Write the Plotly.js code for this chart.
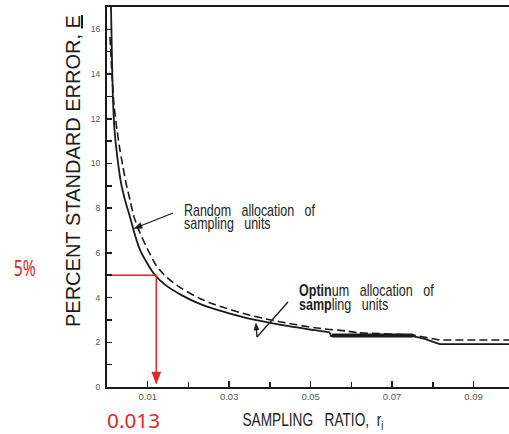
<!DOCTYPE html>
<html>
<head>
<meta charset="utf-8">
<script src="https://cdn.plot.ly/plotly-3.0.1.min.js"></script>
<style>html,body{margin:0;padding:0;background:#fff;}#chart{width:509px;height:434px;}</style>
</head>
<body>
<div id="chart"></div>
<script>
// ---- data ----
// optimum allocation (solid line): curved part and stepped tail
const ratioOptimumCurve = [0.00098, 0.00123, 0.00147, 0.00184, 0.00233, 0.00344, 0.00442, 0.00564, 0.00687, 0.0081, 0.00982, 0.01178, 0.01423, 0.0184, 0.0228, 0.0265, 0.0346, 0.0427, 0.0510, 0.0547];
const errorOptimumCurve = [17.0, 14.63, 12.84, 11.51, 10.6, 9.13, 8.37, 7.61, 6.80, 6.13, 5.55, 5.01, 4.58, 4.10, 3.72, 3.48, 3.07, 2.78, 2.54, 2.44];
const ratioOptimumTail = [0.0547, 0.0550, 0.0751, 0.0780, 0.0817, 0.0987];
const errorOptimumTail = [2.44, 2.28, 2.28, 2.15, 1.92, 1.92];

// random allocation (dashed line)
const ratioRandomCurve = [0.00074, 0.00123, 0.00172, 0.00245, 0.00319, 0.00393, 0.00466, 0.00564, 0.00663, 0.0081, 0.01006, 0.01202, 0.01399, 0.0162, 0.0184, 0.0228, 0.0263, 0.0346, 0.0427, 0.0510, 0.0589, 0.0621];
const errorRandomCurve = [15.66, 13.96, 12.62, 11.5, 10.6, 9.84, 9.13, 8.37, 7.61, 6.89, 6.13, 5.46, 5.03, 4.68, 4.40, 3.96, 3.70, 3.23, 2.91, 2.65, 2.50, 2.42];
const ratioRandomTail = [0.0621, 0.0751, 0.0817, 0.0987];
const errorRandomTail = [2.42, 2.33, 2.10, 2.10];

// thick overlapping stretch where both lines coincide
const ratioOverlap = [0.0552, 0.0751];
const errorOverlap = [2.30, 2.30];

const targetError = 5;
const targetRatio = 0.0121;
const targetRatioLabel = '0.013';
const targetErrorLabel = '5%';

const xTickVals = [0.01, 0.03, 0.05, 0.07, 0.09];
const xTickText = ['0.01', '0.03', '0.05', '0.07', '0.09'];
const xMinorVals = [0.02, 0.04, 0.06, 0.08];
const yTickVals = [0, 2, 4, 6, 8, 10, 12, 14, 16];
const yTickText = ['0', '2', '4', '6', '8', '10', '12', '14', '16'];

// ---- layout helpers (pixel -> paper) ----
const W = 509, H = 434;
const L = 107, R = 509, T = 7, B = 387;
const X_MAX = 0.0987, Y_MAX = 17;
const px = x => (x - L) / (R - L);
const py = y => (B - y) / (B - T);
const arial = "'Liberation Sans', Arial, Helvetica, sans-serif";
const noto = "'Noto Sans', 'Open Sans', sans-serif";
const red = '#d8282b';
const ink = '#1a1a1a';
const sp = '\u00a0';
const sp3 = sp + sp + sp;

function arrowHead(tip, tail, len, hw) {
  const dx = tip[0] - tail[0], dy = tip[1] - tail[1];
  const d = Math.hypot(dx, dy), ux = dx / d, uy = dy / d;
  const bx = tip[0] - ux * len, by = tip[1] - uy * len;
  const p1 = [bx - uy * hw, by + ux * hw], p2 = [bx + uy * hw, by - ux * hw];
  const f = p => px(p[0]) + ',' + py(p[1]);
  return 'M' + f(tip) + ' L' + f(p1) + ' L' + f(p2) + ' Z';
}
function seg(a, b, color, width) {
  return {type: 'line', xref: 'paper', yref: 'paper', x0: px(a[0]), y0: py(a[1]), x1: px(b[0]), y1: py(b[1]), line: {color: color, width: width}};
}
function head(tip, tail, len, hw, color) {
  return {type: 'path', xref: 'paper', yref: 'paper', path: arrowHead(tip, tail, len, hw), fillcolor: color, line: {color: color, width: 0.5}};
}

const targetPx = L + targetRatio / X_MAX * (R - L);

const traces = [
  {x: ratioRandomCurve, y: errorRandomCurve, mode: 'lines', line: {color: ink, width: 1.6, dash: '8px,4px', shape: 'spline', smoothing: 0.7}, hoverinfo: 'skip'},
  {x: ratioRandomTail, y: errorRandomTail, mode: 'lines', line: {color: ink, width: 1.6, dash: '8px,4px'}, hoverinfo: 'skip'},
  {x: ratioOptimumCurve, y: errorOptimumCurve, mode: 'lines', line: {color: ink, width: 1.8, shape: 'spline', smoothing: 0.7}, hoverinfo: 'skip'},
  {x: ratioOptimumTail, y: errorOptimumTail, mode: 'lines', line: {color: ink, width: 1.8}, hoverinfo: 'skip'},
  {x: ratioOverlap, y: errorOverlap, mode: 'lines', line: {color: ink, width: 4}, hoverinfo: 'skip'},
  {x: [0, targetRatio, targetRatio], y: [targetError, targetError, 0.6], mode: 'lines', line: {color: red, width: 1.5}, hoverinfo: 'skip'}
];

const annFont = {family: arial, size: 16, color: '#222'};
const annotations = [
  {xref: 'paper', yref: 'paper', x: px(73), y: py(171), text: 'PERCENT' + sp + 'STANDARD' + sp + 'ERROR,' + sp + '<u>E</u>', textangle: -90, showarrow: false, font: {family: arial, size: 20, color: ink}, xanchor: 'center', yanchor: 'middle'},
  {xref: 'paper', yref: 'paper', x: px(312.5), y: py(421), height: 22, text: 'SAMPLING' + sp3 + 'RATIO,' + sp + sp + 'r<sub>i</sub>', showarrow: false, font: {family: arial, size: 19, color: '#222'}, xanchor: 'center', yanchor: 'middle', _w: 141},
  {xref: 'paper', yref: 'paper', x: px(24), y: py(268), text: targetErrorLabel, showarrow: false, font: {family: noto, size: 21, color: red}, xanchor: 'center', yanchor: 'middle', _w: 22},
  {xref: 'paper', yref: 'paper', x: px(133.5), y: py(420), height: 22, text: targetRatioLabel, showarrow: false, font: {family: noto, size: 20, color: red}, xanchor: 'center', yanchor: 'middle', _w: 53},
  {xref: 'paper', yref: 'paper', x: px(183), y: py(201), borderpad: 0, text: 'Random' + sp3 + 'allocation' + sp3 + 'of<br>sampling' + sp3 + 'units', align: 'left', showarrow: false, font: annFont, xanchor: 'left', yanchor: 'top', _s: 0.78, _dy: 0.8},
  {xref: 'paper', yref: 'paper', x: px(298), y: py(281), borderpad: 0, text: '<b>Optin</b>um' + sp3 + 'allocation' + sp3 + 'of<br><b>samp</b>ling' + sp3 + 'units', align: 'left', showarrow: false, font: annFont, xanchor: 'left', yanchor: 'top', _s: 0.785, _dy: 0.88}
];
const fit = annotations.map(a => ({w: a._w, s: a._s, dy: a._dy, anchor: a.xanchor}));
annotations.forEach(a => { delete a._w; delete a._s; delete a._dy; });

const shapes = [
  seg([173, 213], [139, 226.5], ink, 1.3),
  head([134, 228.5], [173, 213], 8, 3, ink),
  seg([288, 302], [257, 337], ink, 1.3),
  seg([257, 337], [256.3, 329], ink, 1.3),
  head([256, 323], [257, 337], 7, 2.6, ink),
  head([targetPx, 384], [targetPx, 370], 12, 4.5, red)
];

const layout = {
  width: W, height: H,
  margin: {l: L, r: W - R, t: T, b: H - B, pad: 0},
  paper_bgcolor: '#fff', plot_bgcolor: '#fff',
  showlegend: false,
  xaxis: {
    range: [0, X_MAX], showgrid: false, zeroline: false,
    showline: true, linecolor: ink, linewidth: 2, mirror: true,
    tickvals: xTickVals, ticktext: xTickText,
    ticks: 'inside', ticklen: 6, tickwidth: 1.5, tickcolor: ink,
    minor: {tickvals: xMinorVals, ticks: 'inside', ticklen: 5, tickwidth: 1.5, tickcolor: ink},
    tickfont: {family: arial, size: 9.5, color: '#555'}
  },
  yaxis: {
    range: [0, Y_MAX], showgrid: false, zeroline: false,
    showline: true, linecolor: ink, linewidth: 2,
    tickvals: yTickVals, ticktext: yTickText,
    ticks: 'inside', ticklen: 5, tickwidth: 1.5, tickcolor: ink,
    minor: {dtick: 1, ticks: 'inside', ticklen: 5, tickwidth: 1.5, tickcolor: ink},
    tickfont: {family: arial, size: 8.5, color: '#555'},
    ticklabelstandoff: 3
  },
  annotations: annotations,
  shapes: shapes
};

Plotly.newPlot('chart', traces, layout, {staticPlot: true, displayModeBar: false}).then(() => {
  fit.forEach((f, i) => {
    const t = document.querySelector('g.annotation[data-index="' + i + '"] text.annotation-text');
    if (!t) return;
    if (f.dy) {
      const lines = t.querySelectorAll('tspan.line');
      lines.forEach((ln, k) => { if (k > 0) ln.setAttribute('dy', (k * f.dy) + 'em'); });
    }
    if (!f.w && !f.s) return;
    const bb = t.getBBox();
    const s = f.s ? f.s : f.w / bb.width;
    const x0 = f.anchor === 'left' ? bb.x : bb.x + bb.width / 2;
    const prev = t.getAttribute('transform') || '';
    t.setAttribute('transform', prev + ' translate(' + x0 + ',0) scale(' + s + ',1) translate(' + (-x0) + ',0)');
  });
  // drop empty placeholder title texts
  document.querySelectorAll('text').forEach(t => {
    if (!t.textContent.trim()) t.remove();
  });
});
</script>
</body>
</html>
